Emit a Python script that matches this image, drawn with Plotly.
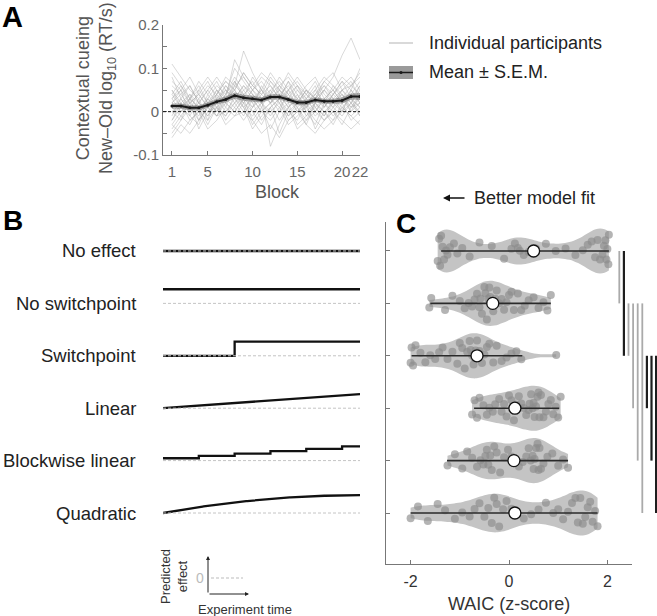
import plotly.graph_objects as go
import numpy as np

W, H = 657, 616
def px(x): return x / W
def py(y): return 1 - y / H

FONT = "Liberation Sans, Arial, Helvetica, sans-serif"

# ---------------- Panel A data ----------------
blocks = list(range(1, 23))
block_ticks = [1, 5, 10, 15, 20, 22]

participants = [
    [0.11, 0.08, 0.05, 0.03, 0.06, 0.04, 0.07, 0.05, 0.09, 0.06, 0.04,
     0.08, 0.05, 0.03, 0.06, 0.02, 0.04, 0.07, 0.05, 0.08, 0.06, 0.09],
    [-0.06, -0.03, -0.05, -0.02, 0.01, -0.01, 0.02, 0.00, 0.03, -0.02, 0.01,
     -0.04, 0.00, 0.02, -0.03, -0.01, 0.01, -0.02, 0.00, -0.03, 0.01, 0.02],
    [0.05, 0.02, 0.04, 0.00, 0.03, 0.06, 0.04, 0.08, 0.05, 0.07, 0.03,
     0.05, 0.07, 0.04, 0.02, 0.05, 0.03, 0.01, 0.04, 0.06, 0.08, 0.05],
    [0.02, 0.05, -0.01, 0.03, -0.02, 0.04, 0.01, 0.06, 0.14, 0.09, 0.05,
     0.02, 0.04, 0.01, 0.03, -0.01, 0.02, 0.05, 0.03, 0.00, 0.04, 0.03],
    [-0.03, 0.00, 0.02, -0.04, 0.00, 0.02, 0.05, 0.03, 0.00, 0.04, 0.02,
     -0.01, 0.03, 0.05, 0.01, 0.03, 0.00, -0.02, 0.01, 0.03, 0.00, 0.04],
    [0.04, 0.07, 0.03, 0.05, 0.08, 0.05, 0.02, 0.07, 0.04, 0.01, 0.06,
     0.03, 0.00, 0.05, 0.03, 0.06, 0.08, 0.04, 0.02, 0.05, 0.07, 0.03],
    [0.00, -0.02, 0.03, 0.01, -0.03, 0.01, -0.01, 0.02, 0.05, 0.02, -0.02,
     0.01, -0.05, 0.00, -0.02, 0.02, -0.01, 0.01, 0.04, 0.02, -0.02, 0.00],
    [0.08, 0.03, 0.06, 0.02, 0.05, 0.02, 0.06, 0.04, 0.02, 0.05, 0.08,
     0.06, 0.03, 0.07, 0.04, 0.01, 0.05, 0.02, 0.06, 0.04, 0.02, 0.06],
    [-0.01, 0.03, 0.00, 0.05, 0.02, -0.01, 0.03, 0.01, -0.02, 0.01, 0.03,
     -0.08, -0.03, 0.01, 0.04, 0.00, -0.03, 0.02, -0.01, 0.01, 0.03, -0.01],
    [0.03, 0.00, 0.01, -0.01, 0.04, 0.07, 0.03, 0.05, 0.02, 0.00, 0.02,
     0.04, 0.06, 0.08, 0.05, 0.02, 0.04, 0.06, 0.03, 0.05, 0.02, 0.05],
    [0.05, 0.01, 0.03, 0.06, 0.02, 0.00, 0.04, 0.10, 0.07, 0.04, 0.01,
     0.05, 0.02, -0.01, 0.02, 0.04, 0.01, 0.03, 0.05, 0.02, 0.05, 0.02],
    [-0.04, -0.01, -0.03, 0.01, -0.01, 0.03, 0.00, 0.02, -0.01, 0.03, 0.00,
     0.02, -0.02, 0.01, -0.04, -0.02, 0.02, 0.00, -0.03, 0.01, -0.01, 0.01],
    [0.02, 0.04, 0.06, 0.02, 0.00, 0.03, 0.05, 0.02, 0.04, 0.06, 0.09,
     0.07, 0.05, 0.03, 0.00, 0.03, 0.05, 0.08, 0.06, 0.03, 0.01, 0.04],
    [0.01, -0.01, 0.02, 0.04, 0.01, 0.05, 0.02, 0.00, 0.03, 0.01, 0.04,
     0.02, 0.06, 0.03, 0.01, -0.02, 0.00, 0.03, 0.01, -0.01, 0.02, 0.00],
    [0.06, 0.04, 0.01, -0.02, 0.03, 0.01, 0.04, 0.07, 0.03, 0.08, 0.05,
     0.02, 0.05, 0.02, 0.05, 0.03, 0.06, 0.01, 0.04, 0.07, 0.03, 0.06],
    [-0.02, 0.02, 0.00, 0.02, -0.01, 0.02, -0.02, 0.01, 0.04, 0.00, -0.03,
     0.01, 0.03, 0.00, 0.02, 0.05, 0.01, -0.01, 0.02, 0.00, 0.05, 0.02],
    [0.03, 0.06, 0.02, 0.04, 0.07, 0.03, 0.06, 0.03, 0.06, 0.04, 0.02,
     0.07, 0.04, 0.06, 0.03, 0.01, 0.04, 0.02, 0.00, 0.03, 0.06, 0.08],
    [0.00, 0.02, -0.02, 0.00, 0.03, 0.00, 0.03, 0.05, 0.01, -0.01, 0.02,
     0.00, 0.02, -0.02, 0.00, 0.02, -0.04, 0.00, 0.02, 0.04, 0.00, 0.02],
    [0.04, 0.01, 0.04, 0.02, 0.05, 0.08, 0.05, 0.03, 0.06, 0.03, 0.05,
     0.09, 0.06, 0.04, 0.06, 0.04, 0.02, 0.05, 0.08, 0.13, 0.17, 0.12],
    [-0.05, -0.02, 0.01, 0.00, -0.04, -0.02, 0.01, -0.01, 0.02, -0.03, 0.00,
     -0.02, 0.01, -0.03, -0.01, 0.01, -0.02, -0.04, -0.02, 0.00, 0.02, -0.01],
    [0.02, 0.00, 0.03, 0.01, 0.02, 0.04, 0.08, 0.06, 0.08, 0.05, 0.03,
     0.04, 0.08, 0.05, 0.07, 0.04, 0.07, 0.03, 0.05, 0.02, 0.04, 0.07],
    [0.01, 0.03, 0.00, 0.02, 0.00, 0.01, -0.01, 0.04, 0.02, 0.05, 0.02,
     0.03, 0.01, 0.04, 0.00, 0.01, 0.03, 0.05, 0.02, 0.04, 0.01, 0.03],
    [0.07, 0.05, 0.02, 0.00, 0.02, 0.05, 0.03, 0.06, 0.04, 0.02, 0.05,
     0.03, 0.05, 0.09, 0.06, 0.03, 0.00, 0.03, 0.01, 0.05, 0.03, 0.01],
    [-0.02, 0.01, -0.01, -0.03, 0.02, 0.00, 0.02, 0.04, 0.01, 0.03, 0.00,
     0.02, 0.04, 0.01, 0.03, 0.00, 0.02, -0.01, 0.03, 0.01, -0.01, -0.03],
    [0.09, 0.06, 0.03, 0.07, 0.04, 0.01, 0.03, 0.12, 0.08, 0.05, 0.07,
     0.04, 0.02, 0.05, 0.08, 0.05, 0.03, 0.06, 0.04, 0.07, 0.05, 0.10],
    [-0.03, -0.05, -0.02, 0.00, -0.02, 0.01, -0.03, -0.01, 0.00, -0.02, -0.05,
     -0.03, -0.06, -0.02, 0.00, -0.03, -0.05, -0.02, 0.00, -0.02, -0.04, -0.02],
    [0.03, 0.05, 0.08, 0.04, 0.01, 0.04, 0.07, 0.05, 0.09, 0.06, 0.04,
     0.06, 0.03, 0.07, 0.02, 0.05, 0.03, 0.07, 0.09, 0.05, 0.06, 0.04],
    [0.00, 0.01, 0.03, -0.02, 0.01, -0.01, 0.00, 0.03, 0.01, -0.04, -0.01,
     0.01, 0.03, -0.01, 0.01, -0.03, 0.02, 0.00, -0.02, 0.02, 0.03, 0.01],
]

mean_effect = [0.013, 0.013, 0.009, 0.009, 0.015, 0.023, 0.028, 0.037, 0.032, 0.030, 0.027,
               0.034, 0.034, 0.028, 0.021, 0.021, 0.027, 0.024, 0.024, 0.026, 0.035, 0.035]
sem_effect = [0.006, 0.006, 0.006, 0.006, 0.006, 0.006, 0.007, 0.007, 0.007, 0.007, 0.006,
              0.006, 0.006, 0.006, 0.006, 0.006, 0.006, 0.006, 0.006, 0.007, 0.007, 0.008]

# ---------------- Panel B / C data ----------------
models = ["No effect", "No switchpoint", "Switchpoint", "Linear", "Blockwise linear", "Quadratic"]

waic_points = [
    [-1.45, -1.42, -1.4, -1.38, -1.35, -1.32, -1.28, -1.25, -1.2, -1.12, -1.05, -0.95, -0.8,
     -0.6, -0.35, -0.1, 0.05, 0.12, 0.18, 0.22, 0.3, 0.4, 0.55, 0.75, 0.95, 1.15, 1.35, 1.5,
     1.6, 1.68, 1.75, 1.8, 1.85, 1.9, 1.93, 1.96, 1.98, 2.0, 2.02, 2.03],
    [-1.62, -1.58, -1.3, -1.15, -1.0, -0.9, -0.82, -0.75, -0.7, -0.65, -0.6, -0.58, -0.55,
     -0.5, -0.48, -0.45, -0.42, -0.4, -0.38, -0.35, -0.32, -0.3, -0.28, -0.25, -0.2, -0.15,
     -0.1, -0.05, 0.0, 0.05, 0.1, 0.18, 0.25, 0.32, 0.4, 0.5, 0.6, 0.7, 0.78, 0.85],
    [-2.0, -1.98, -1.95, -1.9, -1.8, -1.7, -1.6, -1.5, -1.42, -1.35, -1.25, -1.15, -1.05,
     -1.0, -0.95, -0.9, -0.85, -0.8, -0.78, -0.75, -0.72, -0.7, -0.68, -0.65, -0.62, -0.6,
     -0.55, -0.5, -0.45, -0.4, -0.32, -0.25, -0.15, -0.05, 0.05, 0.15, 0.25, 0.96],
    [-0.75, -0.7, -0.65, -0.6, -0.52, -0.45, -0.4, -0.33, -0.28, -0.2, -0.15, -0.1, -0.05,
     0.0, 0.05, 0.1, 0.15, 0.2, 0.25, 0.3, 0.35, 0.4, 0.42, 0.45, 0.48, 0.5, 0.52, 0.55,
     0.58, 0.6, 0.62, 0.65, 0.7, 0.75, 0.8, 0.85, 0.9, 0.95, 1.0, 1.05],
    [-1.25, -1.1, -0.95, -0.85, -0.75, -0.65, -0.58, -0.52, -0.48, -0.45, -0.42, -0.38,
     -0.35, -0.3, -0.25, -0.18, -0.1, -0.02, 0.05, 0.12, 0.2, 0.28, 0.35, 0.4, 0.44, 0.48,
     0.5, 0.52, 0.55, 0.58, 0.6, 0.62, 0.65, 0.7, 0.78, 0.88, 1.0, 1.1, 1.2],
    [-2.0, -1.85, -1.65, -1.45, -1.3, -1.1, -0.95, -0.8, -0.7, -0.6, -0.5, -0.42, -0.35,
     -0.3, -0.25, -0.2, -0.12, -0.05, 0.05, 0.15, 0.3, 0.45, 0.6, 0.75, 0.9, 1.0, 1.1, 1.2,
     1.28, 1.35, 1.4, 1.45, 1.5, 1.55, 1.6, 1.65, 1.7, 1.75, 1.8],
]
whisker_lo = [-1.38, -1.6, -1.98, -0.71, -1.26, -2.0]
whisker_hi = [2.03, 0.85, 0.27, 1.02, 1.2, 1.8]
waic_center = [0.5, -0.33, -0.65, 0.12, 0.1, 0.12]

# pairwise comparisons (row a, row b, significance class)
sig_pairs = [(0, 1, "light"), (0, 2, "dark"), (1, 2, "light"), (1, 3, "light"),
             (1, 4, "light"), (1, 5, "light"), (2, 3, "dark"), (2, 4, "dark"), (2, 5, "dark")]

# model schematic parameters (experiment time in blocks)
n_blocks = 22
switch_block = 8
epoch_len = 4
step_h = 0.27
quad_h = 0.34

fig = go.Figure()

# ---------------- Panel A ----------------
for p in participants:
    fig.add_trace(go.Scatter(x=blocks, y=p, mode="lines",
                             line=dict(color="rgba(170,170,170,0.45)", width=1),
                             xaxis="x", yaxis="y", showlegend=False, hoverinfo="skip"))
upper = [m + s for m, s in zip(mean_effect, sem_effect)]
lower = [m - s for m, s in zip(mean_effect, sem_effect)]
fig.add_trace(go.Scatter(x=blocks + blocks[::-1], y=upper + lower[::-1], fill="toself",
                         fillcolor="rgba(110,110,110,0.55)", line=dict(width=0),
                         xaxis="x", yaxis="y", showlegend=False, hoverinfo="skip"))
fig.add_trace(go.Scatter(x=blocks, y=mean_effect, mode="lines+markers",
                         line=dict(color="#1a1a1a", width=2), marker=dict(size=3, color="#1a1a1a"),
                         xaxis="x", yaxis="y", showlegend=False))

# ---------------- Panel B ----------------
t = np.linspace(0, n_blocks, 200)
epoch_edges = list(range(0, n_blocks, epoch_len)) + [n_blocks]
n_epochs = len(epoch_edges) - 1
model_curves = [
    ([0, n_blocks], [0, 0], "linear"),
    ([0, n_blocks], [step_h, step_h], "linear"),
    ([0, switch_block, n_blocks], [0, step_h, step_h], "hv"),
    (t, step_h * t / n_blocks, "linear"),
    (epoch_edges, [step_h * (k + 1) / n_epochs for k in range(n_epochs)] + [step_h], "hv"),
    (t, quad_h * (2 * t / n_blocks - (t / n_blocks) ** 2), "linear"),
]
for i, (cx, cy, shape) in enumerate(model_curves):
    fig.add_trace(go.Scatter(x=list(cx), y=[i - v for v in cy], mode="lines",
                             line=dict(color="#111", width=2.3, shape=shape),
                             xaxis="x2", yaxis="y2", showlegend=False, hoverinfo="skip"))
    fig.add_trace(go.Scatter(x=[0, n_blocks], y=[i, i], mode="lines",
                             line=dict(color="#c4c4c4", width=1, dash="3px,2px"),
                             xaxis="x2", yaxis="y2", showlegend=False, hoverinfo="skip"))

# ---------------- Panel C ----------------
for i, pts in enumerate(waic_points):
    fig.add_trace(go.Violin(x=pts, y=[i] * len(pts), orientation="h", xaxis="x3", yaxis="y3",
                            side="both", width=0.86, scalemode="width", spanmode="hard",
                            bandwidth=0.27,
                            fillcolor="rgb(196,196,196)", line=dict(width=0, color="rgb(196,196,196)"),
                            points="all", pointpos=0, jitter=0.85,
                            marker=dict(size=8, color="rgba(140,140,140,0.65)", line=dict(width=0)),
                            box_visible=False, meanline_visible=False, showlegend=False,
                            hoverinfo="skip"))
for i in range(len(models)):
    fig.add_trace(go.Scatter(x=[whisker_lo[i], whisker_hi[i]], y=[i, i], mode="lines",
                             line=dict(color="#2a2a2a", width=1.6),
                             xaxis="x3", yaxis="y3", showlegend=False, hoverinfo="skip"))
fig.add_trace(go.Scatter(x=waic_center, y=list(range(len(models))), mode="markers",
                         marker=dict(size=12, color="white", line=dict(color="#111", width=1.3)),
                         xaxis="x3", yaxis="y3", showlegend=False))

yr = [5.973, -0.553]
axis_common = dict(showgrid=False, zeroline=False, showline=True, linecolor="#777",
                   linewidth=1, ticks="inside", ticklen=4, tickcolor="#777", automargin=False)

fig.update_layout(
    width=W, height=H, margin=dict(l=0, r=0, t=0, b=0, autoexpand=False),
    paper_bgcolor="white", plot_bgcolor="white",
    font=dict(family=FONT, size=18, color="#222"),
    showlegend=False, violinmode="overlay",
    xaxis=dict(domain=[px(163), px(360)], range=[0, 22], tickvals=block_ticks, tickangle=0,
               tickfont=dict(size=15, color="#666"), anchor="y", ticklabelstandoff=3,
               **axis_common),
    yaxis=dict(domain=[py(155), py(25)], range=[-0.1, 0.2],
               tickvals=[-0.1, -0.05, 0, 0.05, 0.1, 0.15, 0.2],
               ticktext=["-0.1", "", "0", "", "0.1", "", "0.2"],
               tickfont=dict(size=15, color="#666"), anchor="x", **axis_common),
    xaxis2=dict(domain=[px(163), px(360)], range=[0, n_blocks], visible=False, anchor="y2",
                automargin=False),
    yaxis2=dict(domain=[py(564), py(222)], range=yr, visible=False, anchor="x2", automargin=False),
    xaxis3=dict(domain=[px(386), px(632)], range=[-2.5, 2.5], tickvals=[-2, 0, 2], tickangle=0,
                ticktext=["-2", "0", "2"], tickfont=dict(size=16, color="#333"),
                anchor="y3", ticklabelstandoff=3, **axis_common),
    yaxis3=dict(domain=[py(564), py(222)], range=yr, tickvals=list(range(len(models))),
                showticklabels=False, anchor="x3", **axis_common),
)

# zero line in A
fig.add_shape(type="line", xref="x domain", x0=0, x1=1, yref="y", y0=0, y1=0,
              line=dict(color="#111", width=1, dash="3px,2px"))

# significance bars
bar_x0, bar_dx = 619.3, 4.6
for k, (a, b, cls) in enumerate(sig_pairs):
    xx = px(bar_x0 + k * bar_dx)
    fig.add_shape(type="line", xref="paper", yref="y3", x0=xx, x1=xx, y0=a, y1=b,
                  line=dict(color="#aaaaaa" if cls == "light" else "#1e1e1e",
                            width=1.8 if cls == "light" else 2.2))

# legend for A
fig.add_shape(type="line", xref="paper", yref="paper", x0=px(389), x1=px(413), y0=py(43), y1=py(43),
              line=dict(color="#cccccc", width=1.5))
fig.add_shape(type="rect", xref="paper", yref="paper", x0=px(389), x1=px(413), y0=py(79), y1=py(66),
              fillcolor="#9a9a9a", line=dict(width=0))
fig.add_shape(type="line", xref="paper", yref="paper", x0=px(389), x1=px(413), y0=py(72.5), y1=py(72.5),
              line=dict(color="#1a1a1a", width=1.5))
fig.add_shape(type="circle", xref="paper", yref="paper", x0=px(399.5), x1=px(402.5), y0=py(74), y1=py(71),
              fillcolor="#1a1a1a", line=dict(width=0))

# inset axes in B
fig.add_shape(type="line", xref="paper", yref="paper", x0=px(211), x1=px(243), y0=py(578), y1=py(578),
              line=dict(color="#bbbbbb", width=1, dash="3px,2px"))

ann = []
def text(x, y, s, size=18, color="#222", xanchor="center", yanchor="middle", angle=0):
    ann.append(dict(x=px(x), y=py(y), xref="paper", yref="paper", text=s, showarrow=False,
                    xanchor=xanchor, yanchor=yanchor, textangle=angle,
                    font=dict(size=size, color=color, family=FONT)))

text(0, 17, "<b>A</b>", size=29, color="#000", xanchor="left")
text(1, 220, "<b>B</b>", size=28, color="#000", xanchor="left")
text(394, 223, "<b>C</b>", size=28, color="#000", xanchor="left")

text(96, 88, "Contextual cueing<br>New–Old log<sub>10</sub> (RT/s)", size=18, color="#555", angle=-90)
text(277, 192, "Block", size=18, color="#555")
text(427, 43, "Individual participants", size=18, xanchor="left")
text(427, 72, "Mean ± S.E.M.", size=18, xanchor="left")

for i, m in enumerate(models):
    ann.append(dict(x=px(138), y=i, xref="paper", yref="y2", text=m, showarrow=False,
                    xanchor="right", yanchor="middle", font=dict(size=18.5, color="#222", family=FONT)))

text(472, 198, "Better model fit", size=18, xanchor="left")
ann.append(dict(x=px(443), y=py(198), xref="paper", yref="paper", ax=23, ay=0, text="",
                showarrow=True, arrowhead=2, arrowsize=1, arrowwidth=1.4, arrowcolor="#111", standoff=0))
text(509, 604, "WAIC (z-score)", size=18, color="#333")

# inset legend
text(174, 577, "Predicted<br>effect", size=13, color="#333", angle=-90)
text(200, 578, "0", size=14, color="#bbbbbb")
ann.append(dict(x=px(208), y=py(556), xref="paper", yref="paper", ax=0, ay=38, text="",
                showarrow=True, arrowhead=2, arrowsize=0.8, arrowwidth=1, arrowcolor="#222", standoff=0))
ann.append(dict(x=px(249), y=py(594), xref="paper", yref="paper", ax=-41, ay=0, text="",
                showarrow=True, arrowhead=2, arrowsize=0.8, arrowwidth=1, arrowcolor="#222", standoff=0))
text(245, 609, "Experiment time", size=13, color="#333")

fig.update_layout(annotations=ann)
fig.write_html("out.html", config={"displayModeBar": False},
               post_script="document.body.style.margin='0';document.body.style.overflow='hidden';")
